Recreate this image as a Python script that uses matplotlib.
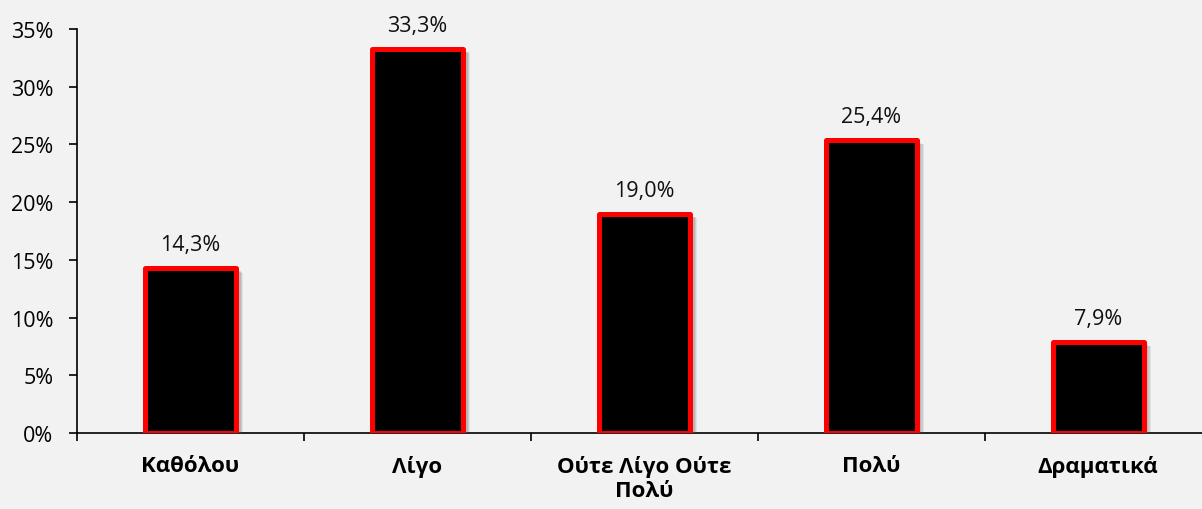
import matplotlib
matplotlib.use("Agg")
import matplotlib.pyplot as plt
import matplotlib.patheffects as pe
import numpy as np

categories = ["Καθόλου", "Λίγο", "Ούτε Λίγο Ούτε\nΠολύ", "Πολύ", "Δραματικά"]
values = [14.3, 33.3, 19.0, 25.4, 7.9]
value_labels = ["14,3%", "33,3%", "19,0%", "25,4%", "7,9%"]
yticks = [0, 5, 10, 15, 20, 25, 30, 35]
ytick_labels = ["0%", "5%", "10%", "15%", "20%", "25%", "30%", "35%"]

plt.rcParams['font.family'] = ['Open Sans', 'DejaVu Sans']
bg = "#F2F2F2"
fig = plt.figure(figsize=(12.02, 5.10), dpi=100, facecolor=bg)
ax = fig.add_axes([0.064, 0.149, 0.944, 0.792], facecolor=bg)

x = np.arange(len(categories))
bars = ax.bar(x, values, width=0.4, color="black", edgecolor="#FF0000", linewidth=3.6,
              joinstyle="round", zorder=3)
shadow = []
for off, a in [(5.5, 0.10), (4.5, 0.14), (3.5, 0.18), (2.5, 0.22)]:
    shadow.append(pe.SimplePatchShadow(offset=(off, -off * 0.6), shadow_rgbFace="#555555", alpha=a))
for b in bars:
    b.set_path_effects(shadow + [pe.Normal()])

for xi, v, lab in zip(x, values, value_labels):
    ax.annotate(lab, (xi, v), xytext=(0, 13), textcoords="offset points",
                ha="center", va="baseline", fontsize=15.5, color="#111111")

ax.set_xlim(-0.5, len(categories) - 0.5)
ax.set_ylim(0, 35)
ax.set_yticks(yticks)
ax.set_yticklabels(ytick_labels, fontsize=15.5)
ax.set_xticks(np.arange(len(categories) + 1) - 0.5)
ax.set_xticklabels([])
ax.set_xticks(x, minor=True)
ax.set_xticklabels(categories, minor=True, fontsize=16, fontweight="bold", linespacing=1.2)
ax.tick_params(axis="x", which="minor", length=0, pad=16)
ax.tick_params(axis="x", which="major", length=6, width=1.2, direction="out")
ax.tick_params(axis="y", length=6, width=1.2, direction="out", pad=11)
for s in ["top", "right"]:
    ax.spines[s].set_visible(False)
ax.spines["left"].set_linewidth(1.2)
ax.spines["bottom"].set_linewidth(1.2)

fig.savefig("out.png", dpi=100, facecolor=bg)
